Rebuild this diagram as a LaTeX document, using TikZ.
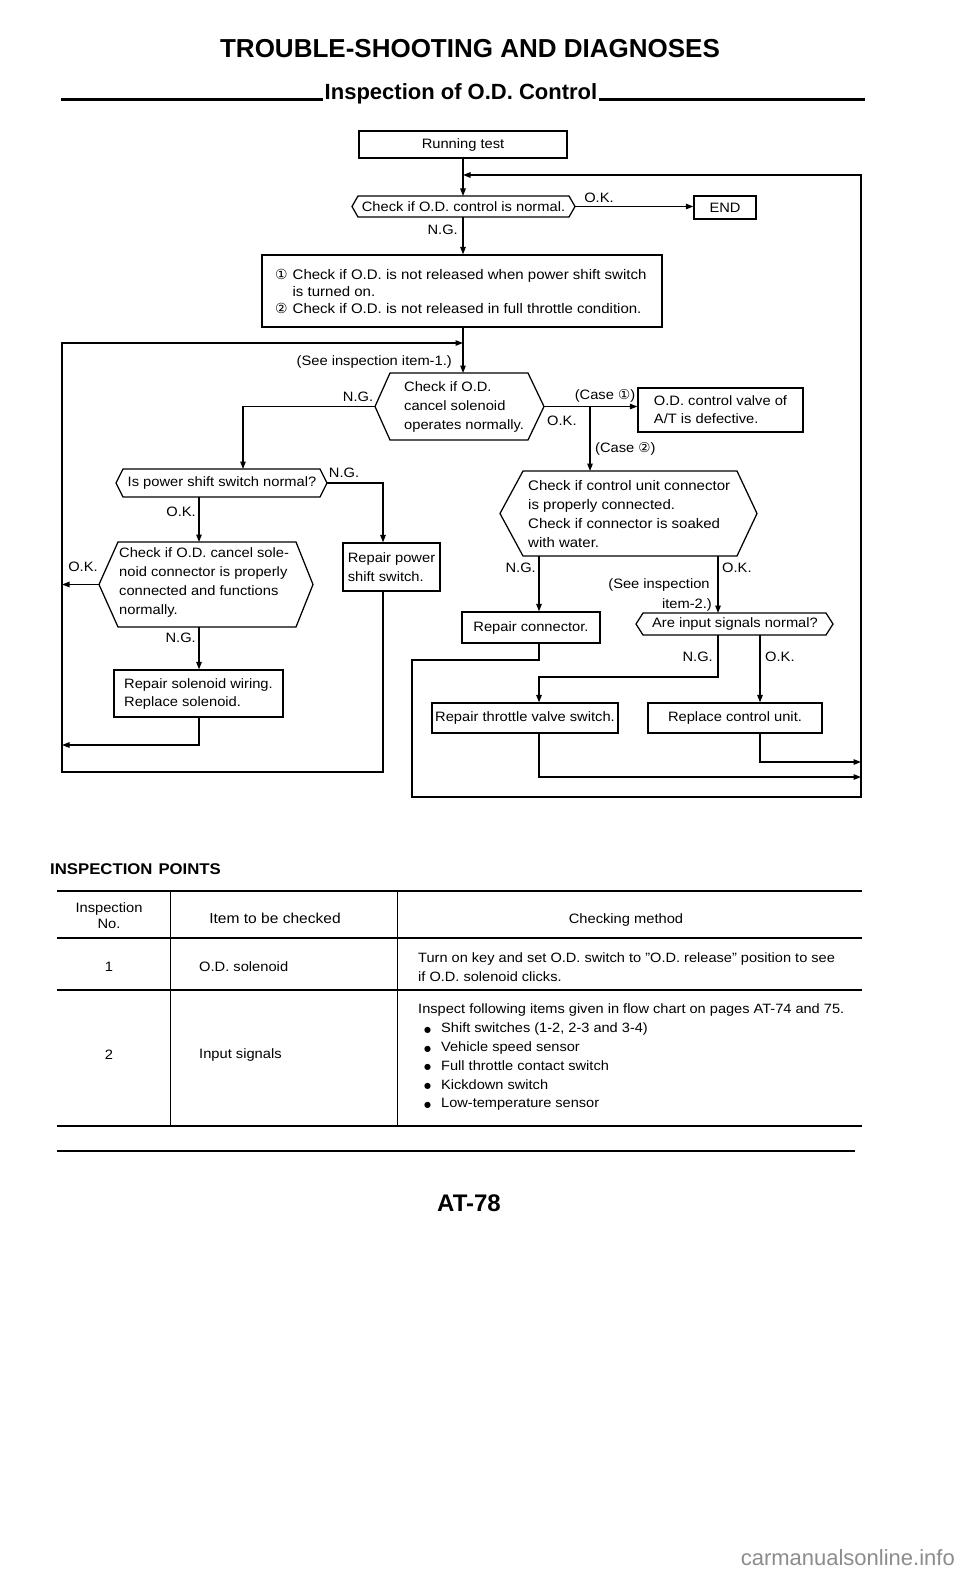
\documentclass[tikz,border=0pt]{standalone}
\usepackage{fontspec}
\setmainfont{Liberation Sans}[FakeStretch=1.08]
\newfontfamily\titlefont{Liberation Sans}
\newfontfamily\symfont{DejaVu Sans}
\usetikzlibrary{arrows.meta}
\newcommand{\mybul}{\hspace*{6pt}\makebox[17pt][l]{\raisebox{0.5pt}{\symfont\fontsize{8}{8}\selectfont ●}}}
\tikzset{
  arr/.style={line width=1.25pt,-{Triangle[length=7.5pt,width=5.5pt]}},
  box/.style={draw,line width=1.25pt,inner sep=0pt},
  lbl/.style={inner sep=0pt},
  hexline/.style={line width=1.25pt,line join=miter},
  rule/.style={line width=2.3pt},
  thinrule/.style={line width=1.3pt},
  colrule/.style={line width=1pt},
  wm/.style={text=black!45,font=\titlefont\fontsize{22}{22}\selectfont,inner sep=0pt},
}
\begin{document}
\begin{tikzpicture}[x=1pt,y=-1pt,font=\fontsize{13.6}{17}\selectfont]
\fill[white] (0,0) rectangle (960,1581);
\useasboundingbox (0,0) rectangle (960,1581);

% ---------- headings
\node[lbl,anchor=base,font=\titlefont\bfseries\fontsize{26}{26}\selectfont] (title) at (470,58) {TROUBLE-SHOOTING AND DIAGNOSES};
\node[inner xsep=1.5pt,inner ysep=0pt,anchor=base,font=\titlefont\bfseries\fontsize{22}{22}\selectfont] (sub) at (461,100) {Inspection of O.D. Control};
\coordinate (rl) at (61,99.5);
\coordinate (rr) at (865,99.5);
\draw[rule] (rl) -- (rl -| sub.west);
\draw[rule] (sub.east |- rr) -- (rr);

% ---------- top of chart
\node[box,minimum width=208pt,minimum height=27pt] (run) at (463,144.5) {Running test};
\draw[hexline] (352,206.5) coordinate (h1w) -- (358,196) -- (569,196) -- (575,206.5) coordinate (h1e) -- (569,217) -- (358,217) -- cycle;
\node[lbl] (h1) at (463.5,206.5) {Check if O.D. control is normal.};
\coordinate (h1n) at (463,196);
\coordinate (h1s) at (463,217);
\draw[arr] (run.south) -- (h1n);
\node[box,minimum width=62pt,minimum height=23pt] (end) at (725,207.5) {END};
\draw[arr] (h1e) -- (h1e -| end.west);
\node[lbl] (ok1) at (599,198) {O.K.};
\node[lbl,anchor=east] (ng1) at (458,230) {N.G.};

\node[box,minimum width=400pt,minimum height=72pt] (b1) at (462,291) {};
\draw[arr] (h1s) -- (b1.north -| h1s);
\node[lbl,anchor=west,font=\fontsize{13.9}{17}\selectfont] (b1t) at (275,293) {\begin{tabular}{@{}l@{\hspace{5pt}}l@{}}{\symfont ①}&Check if O.D. is not released when power shift switch\\&is turned on.\\{\symfont ②}&Check if O.D. is not released in full throttle condition.\end{tabular}};
\coordinate (h2n) at (463,373);
\draw[arr] (b1.south -| h1s) -- (h2n);

% ---------- hexagon 2
\draw[hexline] (375,406.5) coordinate (h2w) -- (390,373) -- (528,373) -- (544,406.5) coordinate (h2e) -- (528,440) -- (390,440) -- cycle;
\node[lbl,anchor=west,align=left,font=\fontsize{13.6}{19}\selectfont] (h2) at (404,407) {Check if O.D.\\cancel solenoid\\operates normally.};
\node[lbl,anchor=east] (see1) at (452,362) {(See inspection item-1.)};
\node[lbl] (ng2) at (358,397) {N.G.};
\coordinate (ng2c) at (243,406.5);
\coordinate (h3n) at (243,469);
\draw[arr] (h2w) -- (ng2c) -- (h3n);

% ---------- hexagon 3
\draw[hexline] (116,483) coordinate (h3w) -- (123,469) -- (320,469) -- (327,483) coordinate (h3e) -- (320,497) -- (123,497) -- cycle;
\node[lbl] (h3) at (222,483) {Is power shift switch normal?};
\coordinate (h3s) at (199,497);
\coordinate (ng3c) at (383,483);
\node[lbl] (ng3) at (344,473) {N.G.};
\node[lbl,anchor=east] (ok3) at (196,512) {O.K.};
\node[box,minimum width=97pt,minimum height=48pt,align=left,font=\fontsize{13.6}{19}\selectfont] (rpow) at (391.5,567) {Repair power\\shift switch.};
\draw[arr] (h3e) -- (ng3c) -- (rpow.north -| ng3c);
\coordinate (h4n) at (199,542);
\draw[arr] (h3s) -- (h4n);

% ---------- hexagon 4
\draw[hexline] (99,584.5) coordinate (h4w) -- (118,542) -- (296,542) -- (313,584.5) -- (296,627) -- (118,627) -- cycle;
\coordinate (h4s) at (199,627);
\node[lbl,anchor=west,align=left,font=\fontsize{13.6}{19}\selectfont] (h4) at (119,582) {Check if O.D. cancel sole-\\noid connector is properly\\connected and functions\\normally.};
\node[lbl] (ok4) at (83,567) {O.K.};
\node[lbl,anchor=east] (ng4) at (196,638) {N.G.};
\node[box,minimum width=169pt,minimum height=47pt,align=left,font=\fontsize{13.6}{18}\selectfont] (rsol) at (198.5,693.5) {Repair solenoid wiring.\\Replace solenoid.};
\draw[arr] (h4s) -- (rsol.north -| h4s);

% ---------- left loop
\coordinate (lp) at (62,343);
\coordinate (lb) at (62,772);
\coordinate (rsolc) at (199,745);
\draw[arr] (h4w) -- (h4w -| lp);
\draw[arr] (rsol.south -| h4s) -- (rsolc) -- (rsolc -| lp);
\draw[arr] (rpow.south -| ng3c) -- (lb -| ng3c) -- (lb) -- (lp) -- (lp -| h2n);

% ---------- right branch
\node[lbl] (case1) at (605,396) {(Case {\symfont ①})};
\node[box,minimum width=165pt,minimum height=44pt,align=left,font=\fontsize{13.6}{18}\selectfont] (odv) at (720.5,410) {O.D. control valve of\\A/T is defective.};
\draw[arr] (h2e) -- (h2e -| odv.west);
\node[lbl,anchor=west] (ok2) at (547,421) {O.K.};
\coordinate (sp) at (590,406.5);
\coordinate (h5n) at (590,471);
\draw[arr] (sp) -- (h5n);
\node[lbl,anchor=west] (case2) at (595,449) {(Case {\symfont ②})};

% ---------- hexagon 5
\draw[hexline] (500,513.5) -- (523,471) -- (737,471) -- (757,513.5) -- (737,556) -- (523,556) -- cycle;
\coordinate (h5sl) at (539,556);
\coordinate (h5sr) at (718,556);
\node[lbl,anchor=west,align=left,font=\fontsize{13.9}{18.7}\selectfont] (h5) at (528,514) {Check if control unit connector\\is properly connected.\\Check if connector is soaked\\with water.};
\node[lbl,anchor=east] (ng5) at (536,568) {N.G.};
\node[lbl,anchor=west] (ok5) at (722,568) {O.K.};
\node[box,minimum width=138pt,minimum height=31pt] (rcon) at (531,627.5) {Repair connector.};
\draw[arr] (h5sl) -- (rcon.north -| h5sl);
\node[lbl] (see2a) at (659,585) {(See inspection};
\node[lbl,anchor=east] (see2b) at (712,605) {item-2.)};
\coordinate (h6n) at (718,613);
\draw[arr] (h5sr) -- (h6n);

% ---------- hexagon 6
\draw[hexline] (636,624) -- (643,613) -- (826,613) -- (833,624) -- (826,635) -- (643,635) -- cycle;
\node[lbl] (h6) at (735,624) {Are input signals normal?};
\coordinate (h6sl) at (718,635);
\coordinate (h6sr) at (760,635);
\node[lbl,anchor=east] (ng6) at (713,657) {N.G.};
\node[lbl,anchor=west] (ok6) at (765,657) {O.K.};
\node[box,minimum width=186pt,minimum height=30pt] (rthr) at (525,718) {Repair throttle valve switch.};
\node[box,minimum width=174pt,minimum height=30pt] (rcu) at (735,718) {Replace control unit.};
\coordinate (colA) at (539,0);
\coordinate (ng6c) at (718,677);
\draw[arr] (h6sl) -- (ng6c) -- (ng6c -| colA) -- (rthr.north -| colA);
\draw[arr] (h6sr) -- (rcu.north -| h6sr);

% ---------- right loop
\coordinate (rx) at (861,0);
\coordinate (rcuc) at (760,762);
\coordinate (rthrc) at (539,777);
\draw[arr] (rcu.south -| h6sr) -- (rcuc) -- (rcuc -| rx);
\draw[arr] (rthr.south -| colA) -- (rthrc) -- (rthrc -| rx);
\coordinate (rc1) at (539,660);
\coordinate (rc2) at (412,660);
\coordinate (rc3) at (412,797);
\coordinate (rc4) at (861,797);
\coordinate (rc5) at (861,175);
\draw[arr] (rcon.south -| colA) -- (rc1) -- (rc2) -- (rc3) -- (rc4) -- (rc5) -- (rc5 -| h1n);

% ---------- table
\node[lbl,anchor=base west,font=\bfseries\fontsize{15.5}{15.5}\selectfont] (insp) at (50,874) {INSPECTION\hspace{6pt}POINTS};
\draw[rule] (57,891) -- (862,891);
\draw[thinrule] (57,938) -- (862,938);
\draw[thinrule] (57,990) -- (862,990);
\draw[rule] (57,1126) -- (862,1126);
\draw[rule] (57,1151) -- (855,1151);
\draw[colrule] (170,891) -- (170,1126);
\draw[colrule] (397,891) -- (397,1126);
\node[lbl,align=center,font=\fontsize{13.6}{16}\selectfont] (th1) at (109,916) {Inspection\\No.};
\node[lbl,font=\fontsize{14.4}{16}\selectfont] (th2) at (275,918) {Item to be checked};
\node[lbl] (th3) at (626,920) {Checking method};
\node[lbl] (r1a) at (109,967) {1};
\node[lbl,anchor=west] (r1b) at (199,967) {O.D. solenoid};
\node[lbl,anchor=west,align=left,font=\fontsize{13.5}{18.5}\selectfont] (r1c) at (418,967) {Turn on key and set O.D. switch to ''O.D. release'' position to see\\if O.D. solenoid clicks.};
\node[lbl] (r2a) at (109,1055) {2};
\node[lbl,anchor=west] (r2b) at (199,1055) {Input signals};
\node[lbl,anchor=north west,align=left,font=\fontsize{13.5}{18.8}\selectfont] (r2c) at (418,1004) {Inspect following items given in flow chart on pages AT-74 and 75.\\\mybul Shift switches (1-2, 2-3 and 3-4)\\\mybul Vehicle speed sensor\\\mybul Full throttle contact switch\\\mybul Kickdown switch\\\mybul Low-temperature sensor};

\node[lbl,font=\titlefont\bfseries\fontsize{24}{24}\selectfont] (page) at (469,1203) {AT-78};
\node[wm,anchor=east] (wmk) at (955,1558) {carmanualsonline.info};
\end{tikzpicture}
\end{document}
